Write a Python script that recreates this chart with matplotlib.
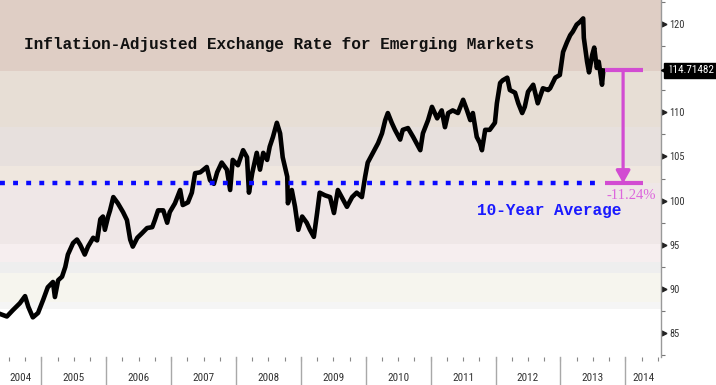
import numpy as np
import matplotlib
matplotlib.use("Agg")
import matplotlib.pyplot as plt
import matplotlib.transforms as mtransforms
from matplotlib import font_manager

# ---------------- data ----------------
dates = [2004.36, 2004.47, 2004.56, 2004.67, 2004.75, 2004.80, 2004.87, 2004.95,
         2005.03, 2005.10, 2005.18, 2005.21, 2005.26, 2005.32, 2005.37, 2005.41,
         2005.49, 2005.55, 2005.60, 2005.67, 2005.72, 2005.80, 2005.86, 2005.91,
         2005.95, 2005.98, 2006.03, 2006.06, 2006.11, 2006.18, 2006.26, 2006.32,
         2006.37, 2006.41, 2006.48, 2006.55, 2006.63, 2006.71, 2006.75, 2006.80,
         2006.88, 2006.94, 2006.98, 2007.06, 2007.14, 2007.18, 2007.26, 2007.32,
         2007.37, 2007.45, 2007.55, 2007.60, 2007.66, 2007.71, 2007.78, 2007.86,
         2007.91, 2007.95, 2008.03, 2008.11, 2008.17, 2008.20, 2008.25, 2008.32,
         2008.37, 2008.42, 2008.48, 2008.52, 2008.57, 2008.63, 2008.68, 2008.72,
         2008.79, 2008.80, 2008.86, 2008.91, 2008.96, 2009.02, 2009.09, 2009.14,
         2009.20, 2009.25, 2009.29, 2009.37, 2009.45, 2009.51, 2009.57, 2009.65,
         2009.71, 2009.79, 2009.86, 2009.94, 2009.99, 2010.03, 2010.11, 2010.19,
         2010.25, 2010.30, 2010.34, 2010.40, 2010.45, 2010.53, 2010.57, 2010.65,
         2010.73, 2010.84, 2010.88, 2010.96, 2011.02, 2011.10, 2011.17, 2011.22,
         2011.27, 2011.34, 2011.42, 2011.50, 2011.56, 2011.61, 2011.65, 2011.71,
         2011.76, 2011.79, 2011.84, 2011.91, 2011.99, 2012.02, 2012.07, 2012.11,
         2012.18, 2012.22, 2012.30, 2012.35, 2012.41, 2012.45, 2012.50, 2012.58,
         2012.65, 2012.73, 2012.81, 2012.84, 2012.92, 2012.99, 2013.04, 2013.10,
         2013.15, 2013.19, 2013.25, 2013.30, 2013.35, 2013.36, 2013.41, 2013.44,
         2013.49, 2013.52, 2013.56, 2013.59, 2013.64, 2013.66]
values = [87.2, 86.9, 87.6, 88.4, 89.2, 88.0, 86.8, 87.3,
          88.8, 90.2, 90.8, 89.1, 91.0, 91.4, 92.5, 93.9,
          95.2, 95.6, 95.0, 93.9, 94.8, 95.8, 95.5, 97.9,
          98.2, 96.7, 98.2, 98.9, 100.4, 99.7, 98.7, 97.8,
          95.6, 94.8, 95.8, 96.3, 96.9, 97.0, 97.8, 98.9,
          98.9, 97.5, 98.7, 99.7, 101.2, 99.5, 99.8, 100.9,
          103.1, 103.2, 103.8, 102.3, 101.9, 103.2, 104.3, 103.5,
          101.2, 104.6, 104.0, 105.7, 104.9, 100.9, 103.1, 105.4,
          103.5, 105.4, 104.6, 106.1, 107.2, 108.8, 107.6, 104.9,
          102.7, 99.7, 101.2, 99.3, 96.7, 98.2, 97.5, 96.7,
          95.9, 98.6, 100.9, 100.6, 100.4, 98.6, 101.2, 100.1,
          99.3, 100.4, 100.9, 100.4, 102.7, 104.3, 105.4, 106.5,
          107.6, 109.1, 109.9, 108.8, 108.0, 106.9, 108.0, 108.2,
          107.2, 105.7, 107.6, 109.1, 110.6, 109.3, 110.2, 108.3,
          109.9, 110.2, 109.9, 111.4, 110.2, 109.1, 109.9, 107.2,
          106.5, 105.7, 108.0, 108.0, 108.8, 111.0, 113.3, 113.6,
          113.9, 112.5, 112.2, 111.0, 109.9, 110.6, 112.3, 113.1,
          111.0, 112.7, 112.5, 112.7, 113.9, 114.2, 116.8, 117.9,
          118.7, 119.1, 119.9, 120.2, 120.6, 118.4, 115.7, 114.5,
          116.5, 117.3, 115.0, 115.7, 113.1, 114.71482]

last_value = 114.71482
last_label = "114.71482"
avg_value = 101.95
pct_label = "-11.24%"
title = "Inflation-Adjusted Exchange Rate for Emerging Markets"
avg_label = "10-Year Average"
years = list(range(2004, 2015))
y_ticks = [85, 90, 95, 100, 105, 110, 120]
band_edges = [80.0, 87.8, 88.55, 91.8, 93.05, 95.1, 101.99, 103.9, 108.3, 114.7, 125.0]
band_colors = ['#ffffff', '#f5f5f5', '#f6f5ee', '#eeeeee', '#f6eeef',
               '#efe7e7', '#efe7df', '#e7e0dd', '#e7ded5', '#dfcec5']

# ---------------- fonts ----------------
fonts = font_manager.fontManager.ttflist
names = {f.name for f in fonts}
narrow = None
for cand in ['Liberation Sans Narrow', 'Roboto Condensed', 'Open Sans Condensed',
             'DejaVu Sans Condensed', 'Noto Sans Condensed']:
    if cand in names:
        narrow = dict(family=cand)
        break
if narrow is None:
    for f in fonts:
        st = f.stretch
        if (isinstance(st, str) and 'condensed' in st) or (isinstance(st, (int, float)) and st < 100):
            if f.style == 'normal' and f.weight in (400, 'normal', 'regular'):
                narrow = dict(family=f.name, stretch=st)
                break
condensed_ok = narrow is not None
if narrow is None:
    narrow = dict(family='Roboto' if 'Roboto' in names else 'DejaVu Sans')
mono = 'Liberation Mono' if 'Liberation Mono' in names else 'DejaVu Sans Mono'
serif = 'Liberation Serif' if 'Liberation Serif' in names else 'DejaVu Serif'
tick_fs = 7.5 if condensed_ok else 7.0
year_fs = 8.0 if condensed_ok else 7.5
tag_fs = 8.0 if condensed_ok else 6.6

# ---------------- figure ----------------
W, H = 716, 385
fig = plt.figure(figsize=(W / 100, H / 100), dpi=100)
ax = fig.add_axes([0, 28 / H, 661 / W, 357 / H])
xmin, xmax = 2004.364, 2014.549
ymin, ymax = 82.32, 122.68
ax.set_xlim(xmin, xmax)
ax.set_ylim(ymin, ymax)

for lo, hi, c in zip(band_edges[:-1], band_edges[1:], band_colors):
    ax.axhspan(lo, hi, color=c, lw=0, zorder=0)

ax.plot(dates, values, color='black', lw=3.3, zorder=3, solid_joinstyle='round')

ax.hlines(avg_value, dates[0], dates[-1], colors='#0a0aff', lw=3.2,
          linestyles=(0, (1.1, 1.85)), zorder=4)

mag = '#d24cd2'
x_bar0, x_bar1, x_mid = 2013.68, 2014.27, 2013.965
ax.hlines([last_value, avg_value], x_bar0, x_bar1, colors=mag, lw=3.0, zorder=5)
ax.annotate('', xy=(x_mid, avg_value), xytext=(x_mid, last_value),
            arrowprops=dict(arrowstyle='-|>,head_length=0.75,head_width=0.42',
                            color=mag, lw=2.3, shrinkA=0, shrinkB=0,
                            mutation_scale=10), zorder=5)
ax.text(2014.087, 100.6, pct_label, color='#dd66dd', fontsize=10.5,
        family=serif, ha='center', va='center', zorder=6)

ax.text(0.037, 0.874, title, transform=ax.transAxes, family=mono,
        fontweight='bold', fontsize=11.6, color='#111111', va='center', ha='left')
ax.text(2011.714, 98.83, avg_label, family=mono, fontweight='bold',
        fontsize=11.6, color='#1a1aff', va='center', ha='left', zorder=6)

# ---------------- axes styling ----------------
for s in ['left', 'top', 'bottom']:
    ax.spines[s].set_visible(False)
ax.spines['right'].set_color('#999999')
ax.spines['right'].set_linewidth(1.0)

ax.yaxis.tick_right()
ax.set_yticks(y_ticks)
ax.set_yticklabels([str(t) for t in y_ticks], fontsize=tick_fs, color='#333333', **narrow)
ax.tick_params(axis='y', which='major', length=0, pad=6)
ax.set_yticks(np.arange(82.5, 123, 5.0), minor=True)
ax.tick_params(axis='y', which='minor', length=3, width=0.8, color='#777777', direction='out')

ytr = ax.get_yaxis_transform() + mtransforms.ScaledTranslation(3 / 100, 0, fig.dpi_scale_trans)
ax.plot([1.0] * len(y_ticks), y_ticks, ls='none', marker='>', ms=3.5, color='#222222',
        transform=ytr, clip_on=False)

# x axis: quarterly minor ticks, year dividers and centred labels
ax.set_xticks([])
ax.set_xticks(np.arange(2004.5, 2014.55, 0.25), minor=True)
ax.tick_params(axis='x', which='minor', length=3, width=0.8, color='#888888', direction='out')
xtr = ax.get_xaxis_transform()
for y in years[1:]:
    ax.plot([y, y], [0, -28 / 357], color='#a8a8a8', lw=1.0, transform=xtr, clip_on=False)
for y in years:
    lo, hi = max(y, xmin), min(y + 1, xmax)
    ax.text((lo + hi) / 2, -21 / 357, str(y), transform=xtr, ha='center', va='center',
            fontsize=year_fs, color='#333333', **narrow)

# last price tag
ptr = ax.get_yaxis_transform() + mtransforms.ScaledTranslation(6 / 100, 0, fig.dpi_scale_trans)
ax.text(1.0, last_value, last_label, transform=ptr, ha='left', va='center', color='white',
        fontsize=tag_fs, clip_on=False, zorder=10,
        bbox=dict(boxstyle='square,pad=0.25', fc='black', ec='black'), **narrow)
mtr = ax.get_yaxis_transform() + mtransforms.ScaledTranslation(3.5 / 100, 0, fig.dpi_scale_trans)
ax.plot([1.0], [last_value], ls='none', marker='<', ms=6, color='black',
        transform=mtr, clip_on=False, zorder=11)

fig.savefig('out.png', dpi=100)
